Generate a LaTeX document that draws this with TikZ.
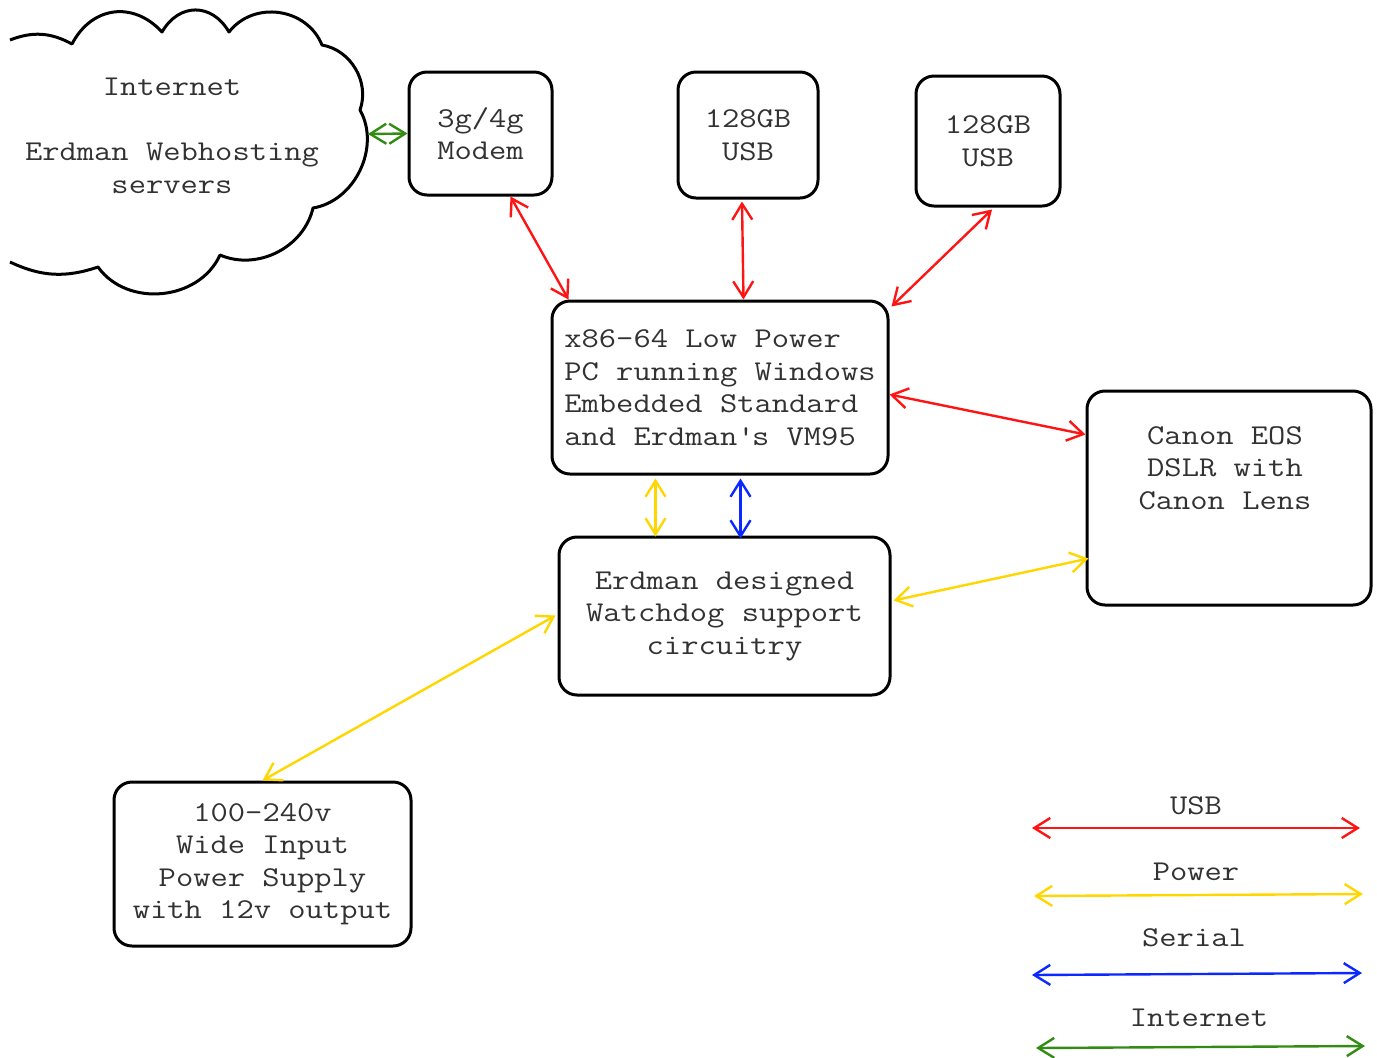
\documentclass[tikz,border=0pt]{standalone}
\usepackage{fontspec}
\newfontfamily\courfont{Latin Modern Mono}[FakeStretch=1.17]
\usetikzlibrary{arrows.meta,calc}
\definecolor{cred}{RGB}{255,20,20}
\definecolor{cyel}{RGB}{255,214,0}
\definecolor{cblue}{RGB}{10,40,255}
\definecolor{cgreen}{RGB}{50,140,20}
\definecolor{ctext}{RGB}{50,50,50}
\begin{document}
\begin{tikzpicture}[x=0.5pt,y=-0.5pt,
  txtfont/.style={font=\courfont\fontsize{14.35}{16.25}\selectfont},
  box/.style={draw=black, line width=1.5pt, rounded corners=9pt, inner sep=0pt,
    align=center, text=ctext, txtfont},
  lbl/.style={inner sep=0pt, align=center, text=ctext, txtfont},
  conn/.style={line width=1.2pt,
    {Straight Barb[length=8pt,width=10pt]}-{Straight Barb[length=8pt,width=10pt]}},
  cloudline/.style={draw=black, line width=1.5pt, line join=round},
]
\useasboundingbox (0,0) rectangle (1377,1057);

% cloud
\draw[cloudline] (10,40)
  to[bend left=25] (72,44)
  to[bend left=55, looseness=1.2] (162,32)
  to[bend left=60, looseness=1.3] (229,32)
  to[bend left=60, looseness=1.1] (322,45)
  to[bend left=50] (360,110)
  to[bend left=55] (313,208)
  to[bend left=50] (220,255)
  to[bend left=60, looseness=1.05] (98,267)
  to[bend left=22] (10,262);
\node[lbl] (cloudtxt) at (172,136) {Internet\\\mbox{}\\Erdman Webhosting\\servers};
\coordinate (cloudR) at (368,134);

% boxes
\node[box, minimum width=71.5pt, minimum height=61.5pt] (modem) at (480.5,133.5) {3g/4g\\Modem};
\node[box, minimum width=70pt, minimum height=63pt] (usb1) at (748,135) {128GB\\USB};
\node[box, minimum width=72pt, minimum height=65pt] (usb2) at (988,141) {128GB\\USB};
\node[box, minimum width=168pt, minimum height=86.5pt, align=left] (pc) at (720,387.5)
  {x86-64 Low Power\\PC running Windows\\Embedded Standard\\and Erdman\textquotesingle s VM95};
\node[box, minimum width=165.5pt, minimum height=79pt] (wd) at (724.5,616)
  {Erdman designed\\Watchdog support\\circuitry};
\node[box, minimum width=142pt, minimum height=107pt] (canon) at (1229,498) {};
\node[lbl] (canontxt) at (1225,468) {Canon EOS\\DSLR with\\Canon Lens};
\node[box, minimum width=148.5pt, minimum height=82pt] (psu) at (262.5,864)
  {100-240v\\Wide Input\\Power Supply\\with 12v output};

% connectors
\draw[conn, cgreen] (cloudR) -- (modem.west);
\draw[conn, cred] ($(modem.south west)+(103,0)$) -- ($(pc.north west)+(18,0)$);
\draw[conn, cred] ($(usb1.south)+(-6,2)$) -- ($(pc.north west)+(193,0)$);
\draw[conn, cred] ($(usb2.south)+(4,2)$) -- ($(pc.north east)+(2,7)$);
\draw[conn, cred] ($(pc.north east)+(0,95)$) -- ($(canon.north west)+(0,45)$);
\draw[conn, cyel] ($(pc.south west)+(105,3)$) -- ($(wd.north west)+(98,1)$);
\draw[conn, cblue] ($(pc.south west)+(190,3)$) -- ($(wd.north west)+(183,3)$);
\draw[conn, cyel] ($(wd.north east)+(2,65)$) -- ($(canon.north west)+(3,169)$);
\draw[conn, cyel] ($(wd.north west)+(-2,80)$) -- (psu.north);

% legend
\node[lbl] (lusb) at (1196,806) {USB};
\node[lbl] (lpow) at (1196,872) {Power};
\node[lbl] (lser) at (1194,938) {Serial};
\node[lbl] (lint) at (1199,1018) {Internet};
\coordinate (usbL) at (1032,828);  \coordinate (usbR) at (1360,828);
\coordinate (powL) at (1034,896);  \coordinate (powR) at (1363,894);
\coordinate (serL) at (1032,975);  \coordinate (serR) at (1362,973);
\coordinate (intL) at (1036,1048); \coordinate (intR) at (1365,1046);
\draw[conn, cred] (usbL) -- (usbR);
\draw[conn, cyel] (powL) -- (powR);
\draw[conn, cblue] (serL) -- (serR);
\draw[conn, cgreen] (intL) -- (intR);
\end{tikzpicture}
\end{document}
